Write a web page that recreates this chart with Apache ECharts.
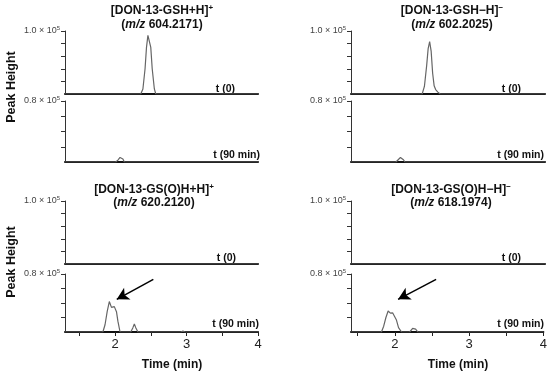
<!DOCTYPE html>
<html>
<head>
<meta charset="utf-8">
<script src="https://cdn.jsdelivr.net/npm/echarts@6/dist/echarts.min.js"></script>
<style>html,body{margin:0;padding:0;background:#fff}#c{width:550px;height:375px}</style>
</head>
<body>
<div id="c"></div>
<script>
// ---- data (time in min, intensity in units of 1e5) ----
const xTickValues = [1.5, 2, 2.5, 3, 3.5, 4];
const xLabelValues = [2, 3, 4];
const xMinLeft = 1.3, xMinRight = 1.41, xMax = 4;
const yTopMax = 1.0, yBottomMax = 0.8, yStep = 0.2;

const gshPos_t0 = [[1.3,0],[2.36,0],[2.39,0.08],[2.42,0.40],[2.44,0.74],[2.46,0.93],[2.47,0.95],[2.48,0.93],[2.50,0.74],[2.52,0.40],[2.55,0.08],[2.57,0],[4,0]];
const gshPos_t90 = [[1.3,0],[2.01,0],[2.04,0.025],[2.07,0.06],[2.09,0.065],[2.11,0.04],[2.13,0],[4,0]];
const gshNeg_t0 = [[1.41,0],[1.78,0],[1.80,0.015],[1.82,0],[2.36,0],[2.39,0.12],[2.42,0.45],[2.44,0.72],[2.46,0.83],[2.48,0.68],[2.50,0.33],[2.52,0.13],[2.54,0.07],[2.57,0.03],[2.60,0],[4,0]];
const gshNeg_t90 = [[1.41,0],[2.01,0],[2.04,0.03],[2.07,0.06],[2.09,0.055],[2.11,0.03],[2.13,0],[4,0]];
const gsoPos_t0 = [[1.3,0],[4,0]];
const gsoPos_t90 = [[1.3,0],[1.83,0],[1.86,0.10],[1.89,0.28],[1.92,0.42],[1.95,0.34],[1.97,0.36],[1.99,0.35],[2.02,0.28],[2.04,0.15],[2.07,0],[2.22,0],[2.25,0.06],[2.27,0.11],[2.29,0.06],[2.32,0],[2.92,0],[2.95,0.012],[2.98,0],[4,0]];
const gsoNeg_t0 = [[1.41,0],[4,0]];
const gsoNeg_t90 = [[1.41,0],[1.82,0],[1.85,0.08],[1.88,0.20],[1.91,0.29],[1.94,0.26],[1.97,0.265],[1.99,0.26],[2.02,0.17],[2.05,0.06],[2.09,0],[2.20,0],[2.24,0.05],[2.26,0.06],[2.28,0.04],[2.31,0],[4,0]];
const arrowPos = [[2.536,0.727],[2.024,0.451]];
const arrowNeg = [[2.556,0.727],[2.044,0.451]];

const titles1 = [['[DON-13-GSH+H]','+'],['[DON-13-GSH\u2212H]','\u2212'],['[DON-13-GS(O)H+H]','+'],['[DON-13-GS(O)H\u2212H]','\u2212']];
const titles2 = ['604.2171','602.2025','620.2120','618.1974'];
const tLabels = ['t (0)','t (90 min)'];

// ---- layout ----
const FONT = 'Arial, "Liberation Sans", sans-serif';
const grids = [
  {left:65, top:31, width:193, height:63},
  {left:65, top:101, width:193, height:61},
  {left:351, top:31, width:194, height:63},
  {left:351, top:101, width:194, height:61},
  {left:65, top:201, width:193, height:63},
  {left:65, top:274, width:193, height:58},
  {left:351, top:201, width:194, height:63},
  {left:351, top:274, width:194, height:58}
];
const seriesData = [gshPos_t0, gshPos_t90, gshNeg_t0, gshNeg_t90, gsoPos_t0, gsoPos_t90, gsoNeg_t0, gsoNeg_t90];

const xAxes = grids.map((g, i) => {
  const isBottom = (i === 5 || i === 7);
  return {
    type: 'value', gridIndex: i,
    min: (i % 4 < 2) ? xMinLeft : xMinRight, max: xMax,
    splitLine: {show: false},
    axisLine: {show: true, onZero: false, lineStyle: {color: '#111', width: 2}},
    axisTick: {show: isBottom, customValues: xTickValues, length: 4, lineStyle: {color: '#222', width: 1}},
    axisLabel: {show: isBottom, customValues: xLabelValues, margin: 6, fontFamily: FONT, fontSize: 13, color: '#222'}
  };
});

const yAxes = grids.map((g, i) => {
  const top = (i % 2 === 0);
  const mx = top ? yTopMax : yBottomMax;
  const ticks = [];
  for (let v = yStep; v <= mx + 1e-9; v += yStep) ticks.push(+v.toFixed(2));
  return {
    type: 'value', gridIndex: i, min: 0, max: mx, interval: yStep,
    splitLine: {show: false},
    axisLine: {show: true, lineStyle: {color: '#333', width: 1}},
    axisTick: {show: true, customValues: ticks, length: 4, lineStyle: {color: '#333'}},
    axisLabel: {
      customValues: [mx], margin: 5, color: '#444', fontFamily: FONT,
      formatter: v => '{a|' + v.toFixed(1) + ' \u00d7 10}{s|5}',
      rich: {a: {fontSize: 9, fontFamily: FONT, color: '#444', lineHeight: 11}, s: {fontSize: 6, fontFamily: FONT, color: '#444', verticalAlign: 'top', lineHeight: 11}}
    }
  };
});

const series = seriesData.map((d, i) => {
  const s = {
    type: 'line', xAxisIndex: i, yAxisIndex: i, data: d, showSymbol: false,
    lineStyle: {color: '#666', width: 1.2}, animation: false, z: 1
  };
  if (i === 5 || i === 7) {
    const a = (i === 5) ? arrowPos : arrowNeg;
    s.markLine = {
      silent: true, animation: false, symbol: ['none', 'arrow'], symbolSize: [10, 12],
      label: {show: false},
      lineStyle: {color: '#000', width: 1.5, type: 'solid'},
      data: [[{coord: a[0]}, {coord: a[1]}]]
    };
  }
  return s;
});

// text elements
const graphic = [];
const titleCenters = [[162, 11, 25], [452, 11, 25], [154, 190, 203], [451, 190, 203]];
titleCenters.forEach((c, k) => {
  graphic.push({type: 'text', x: c[0], y: c[1], style: {
    text: '{t|' + titles1[k][0] + '}{s|' + titles1[k][1] + '}',
    align: 'center', textAlign: 'center', verticalAlign: 'middle', textVerticalAlign: 'middle',
    rich: {t: {fontSize: 12, fontWeight: 'bold', fontFamily: FONT, fill: '#111', color: '#111', lineHeight: 14},
           s: {fontSize: 8, fontWeight: 'bold', fontFamily: FONT, fill: '#111', color: '#111', verticalAlign: 'top', lineHeight: 14}}
  }});
  graphic.push({type: 'text', x: c[0], y: c[2], style: {
    text: '{t|(}{i|m/z}{t| ' + titles2[k] + ')}',
    align: 'center', textAlign: 'center', verticalAlign: 'middle', textVerticalAlign: 'middle',
    rich: {t: {fontSize: 12, fontWeight: 'bold', fontFamily: FONT, fill: '#111', color: '#111'},
           i: {fontSize: 12, fontWeight: 'bold', fontStyle: 'italic', fontFamily: FONT, fill: '#111', color: '#111'}}
  }});
});
[[12, 87], [12, 262]].forEach(p => {
  graphic.push({type: 'text', x: p[0], y: p[1], rotation: Math.PI / 2, style: {
    text: 'Peak Height', font: 'bold 12.5px ' + FONT, fill: '#111',
    align: 'center', textAlign: 'center', verticalAlign: 'middle', textVerticalAlign: 'middle'
  }});
});
[[172, 365], [458, 365]].forEach(p => {
  graphic.push({type: 'text', x: p[0], y: p[1], style: {
    text: 'Time (min)', font: 'bold 12px ' + FONT, fill: '#111',
    align: 'center', textAlign: 'center', verticalAlign: 'middle', textVerticalAlign: 'middle'
  }});
});
const tPos = [[235, 89, 0], [260, 155, 1], [521, 89, 0], [544, 155, 1], [236, 258, 0], [259, 324, 1], [521, 258, 0], [544, 324, 1]];
tPos.forEach(p => {
  graphic.push({type: 'text', x: p[0], y: p[1], style: {
    text: tLabels[p[2]], font: 'bold 10.5px ' + FONT, fill: '#111',
    align: 'right', textAlign: 'right', verticalAlign: 'middle', textVerticalAlign: 'middle'
  }});
});

const chart = echarts.init(document.getElementById('c'), null, {renderer: 'canvas'});
chart.setOption({
  animation: false,
  backgroundColor: '#fff',
  grid: grids,
  xAxis: xAxes,
  yAxis: yAxes,
  series: series,
  graphic: graphic
});
</script>
</body>
</html>
